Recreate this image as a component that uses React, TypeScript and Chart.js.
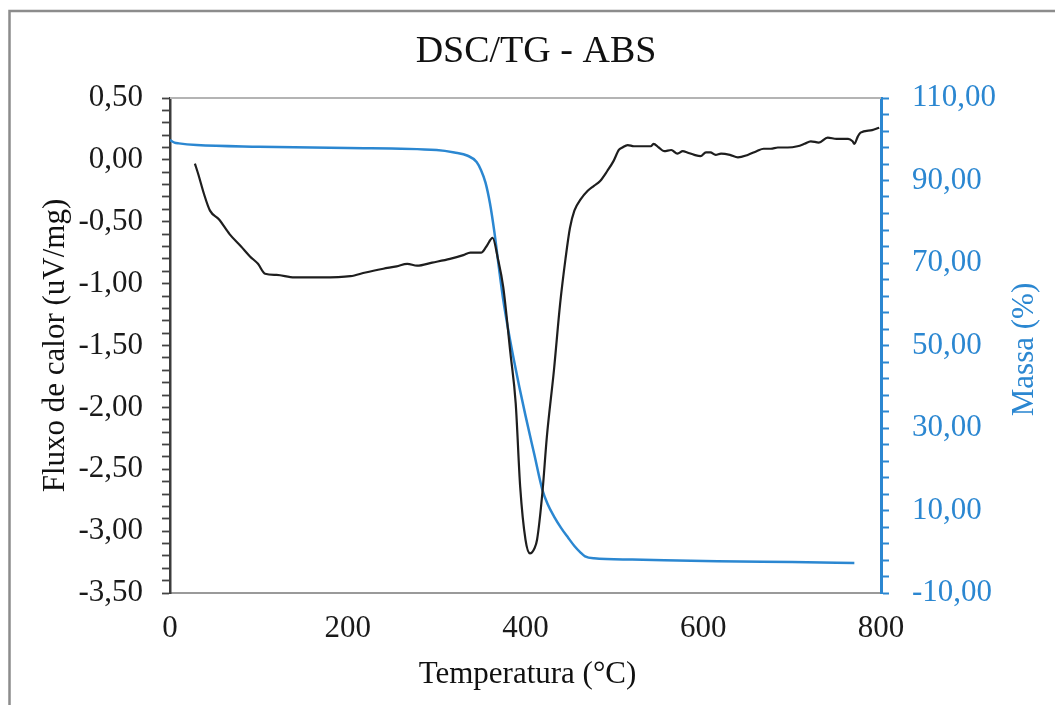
import { useEffect, useRef } from 'react';
import { Chart, registerables } from 'chart.js';

Chart.register(...registerables);

// DSC curve (heat flow, uV/mg) vs temperature (°C)
const dscTemp = [28, 32, 38, 45, 55, 67, 80, 90, 99, 107, 120, 140, 170, 203, 220, 240, 255, 267, 278, 295, 315, 330, 338, 350, 356, 363, 369, 375, 383, 389, 394, 400, 405, 410, 413, 419, 424, 432, 439, 445, 450, 455, 462, 470, 477, 484, 492, 499, 505, 509, 515, 522, 532, 541, 544, 550, 556, 564, 571, 577, 582, 590, 597, 603, 608, 614, 620, 630, 639, 650, 660, 668, 676, 684, 695, 706, 714, 721, 730, 740, 750, 763, 768, 770, 774, 777, 790, 798];
const dscFlow = [-0.03, -0.12, -0.27, -0.41, -0.48, -0.6, -0.7, -0.78, -0.84, -0.92, -0.93, -0.95, -0.95, -0.94, -0.91, -0.88, -0.86, -0.84, -0.855, -0.83, -0.8, -0.77, -0.75, -0.75, -0.7, -0.63, -0.8, -1.03, -1.56, -1.97, -2.64, -3.07, -3.18, -3.14, -3.07, -2.69, -2.24, -1.7, -1.16, -0.8, -0.55, -0.41, -0.32, -0.25, -0.21, -0.17, -0.09, -0.01, 0.08, 0.1, 0.12, 0.11, 0.11, 0.11, 0.13, 0.1, 0.07, 0.08, 0.05, 0.07, 0.06, 0.04, 0.03, 0.06, 0.06, 0.04, 0.05, 0.04, 0.02, 0.04, 0.07, 0.09, 0.09, 0.1, 0.1, 0.11, 0.13, 0.15, 0.14, 0.18, 0.17, 0.17, 0.15, 0.13, 0.19, 0.22, 0.24, 0.26];

// TG curve (mass, %) vs temperature (°C)
const tgTemp = [0, 5, 10, 30, 100, 200, 300, 320, 335, 345, 350, 355, 360, 365, 370, 375, 380, 387, 393, 400, 410, 419, 425, 432, 440, 448, 455, 462, 467, 477, 520, 616, 700, 770];
const tgMass = [99.8, 99.2, 99.0, 98.6, 98.2, 97.9, 97.4, 96.8, 96.0, 94.5, 92.5, 89.5, 84.5, 77.5, 69, 61, 54.5, 46.4, 40, 33, 23.5, 15, 11.5, 8.6, 5.8, 3.4, 1.4, -0.2, -1.1, -1.6, -1.9, -2.3, -2.5, -2.7];

const tempTicks = [0, 200, 400, 600, 800];
const fluxTicks = [-3.5, -3, -2.5, -2, -1.5, -1, -0.5, 0, 0.5];
const massTicks = [-10, 10, 30, 50, 70, 90, 110];

const titleText = 'DSC/TG - ABS';
const xTitle = 'Temperatura (°C)';
const yTitle = 'Fluxo de calor (uV/mg)';
const y1Title = 'Massa (%)';

const FONT = "'Liberation Serif', 'Times New Roman', serif";
const BLUE = '#2b87d1';
const BLACK = '#1e1e1e';

const isIn = (arr: number[], v: number) => arr.some((t) => Math.abs(t - v) < 1e-6);
const fmt = (v: number) => v.toFixed(2).replace('.', ',');

export default function App() {
  const ref = useRef<HTMLCanvasElement>(null);

  useEffect(() => {
    if (!ref.current) return;

    const textPlugin = {
      id: 'texts',
      afterDraw(chart: any) {
        const ctx = chart.ctx as CanvasRenderingContext2D;
        const a = chart.chartArea;
        ctx.save();
        // outer frame (left + top)
        ctx.strokeStyle = '#8c8c8c';
        ctx.lineWidth = 2.5;
        ctx.beginPath();
        ctx.moveTo(9.5, 705);
        ctx.lineTo(9.5, 11);
        ctx.lineTo(1055, 11);
        ctx.stroke();
        // plot top border
        ctx.strokeStyle = '#b4b4b4';
        ctx.lineWidth = 2;
        ctx.beginPath();
        ctx.moveTo(a.left, a.top);
        ctx.lineTo(a.right, a.top);
        ctx.stroke();
        // chart title
        ctx.fillStyle = '#111';
        ctx.font = `38px ${FONT}`;
        ctx.textAlign = 'center';
        ctx.textBaseline = 'alphabetic';
        ctx.fillText(titleText, 536, 62);
        // x title
        ctx.font = `31px ${FONT}`;
        ctx.fillText(xTitle, (a.left + a.right) / 2 + 2, 683);
        // left y title
        ctx.save();
        ctx.translate(56, (a.top + a.bottom) / 2);
        ctx.rotate(-Math.PI / 2);
        ctx.textBaseline = 'middle';
        ctx.fillText(yTitle, 0, 0);
        ctx.restore();
        // right y title
        ctx.save();
        ctx.translate(1025, (a.top + a.bottom) / 2 + 4);
        ctx.rotate(-Math.PI / 2);
        ctx.textBaseline = 'middle';
        ctx.fillStyle = BLUE;
        ctx.fillText(y1Title, 0, 0);
        ctx.restore();
        ctx.restore();
      },
    };

    const chart = new Chart(ref.current, {
      type: 'line',
      data: {
        datasets: [
          {
            label: 'DSC',
            data: dscTemp.map((t, i) => ({ x: t, y: dscFlow[i] })),
            borderColor: BLACK,
            borderWidth: 2.2,
            pointRadius: 0,
            cubicInterpolationMode: 'monotone',
            yAxisID: 'y',
          },
          {
            label: 'TG',
            data: tgTemp.map((t, i) => ({ x: t, y: tgMass[i] })),
            borderColor: BLUE,
            borderWidth: 2.5,
            pointRadius: 0,
            cubicInterpolationMode: 'monotone',
            yAxisID: 'y1',
          },
        ],
      },
      options: {
        animation: false,
        responsive: true,
        maintainAspectRatio: false,
        layout: { padding: { top: 98, left: 0, right: 0, bottom: 0 } },
        plugins: {
          legend: { display: false },
          title: { display: false },
          tooltip: { enabled: false },
        },
        scales: {
          x: {
            type: 'linear',
            min: 0,
            max: 800,
            afterFit: (s: any) => {
              s.height = 112;
            },
            ticks: {
              stepSize: 200,
              padding: 17,
              color: '#1a1a1a',
              font: { family: FONT, size: 31 },
              callback: (v: any) => (isIn(tempTicks, Number(v)) ? String(v) : ''),
            },
            grid: { display: true, drawOnChartArea: false, drawTicks: false },
            border: { display: true, color: '#9a9a9a', width: 2 },
          },
          y: {
            type: 'linear',
            position: 'left',
            min: -3.5,
            max: 0.5,
            afterFit: (s: any) => {
              s.width = 170;
            },
            ticks: {
              stepSize: 0.1,
              maxTicksLimit: 200,
              autoSkip: false,
              padding: 19,
              color: '#1a1a1a',
              font: { family: FONT, size: 31 },
              callback: (v: any) => (isIn(fluxTicks, Number(v)) ? fmt(Number(v)) : ''),
            },
            grid: {
              display: true,
              drawOnChartArea: false,
              drawTicks: true,
              tickLength: 8,
              tickColor: '#444',
              tickWidth: 1.8,
            },
            border: { display: true, color: '#3c3c3c', width: 2.5 },
          },
          y1: {
            type: 'linear',
            position: 'right',
            min: -10,
            max: 110,
            afterFit: (s: any) => {
              s.width = 174;
            },
            ticks: {
              stepSize: 4,
              maxTicksLimit: 200,
              autoSkip: false,
              padding: 23,
              color: BLUE,
              font: { family: FONT, size: 31 },
              callback: (v: any) => (isIn(massTicks, Number(v)) ? fmt(Number(v)) : ''),
            },
            grid: {
              display: true,
              drawOnChartArea: false,
              drawTicks: true,
              tickLength: 8,
              tickColor: BLUE,
              tickWidth: 2,
            },
            border: { display: true, color: BLUE, width: 3 },
          },
        },
      },
      plugins: [textPlugin],
    });

    return () => chart.destroy();
  }, []);

  return (
    <div style={{ position: 'absolute', left: 0, top: 0, width: 1055, height: 705, background: '#fff' }}>
      <canvas ref={ref} />
    </div>
  );
}
